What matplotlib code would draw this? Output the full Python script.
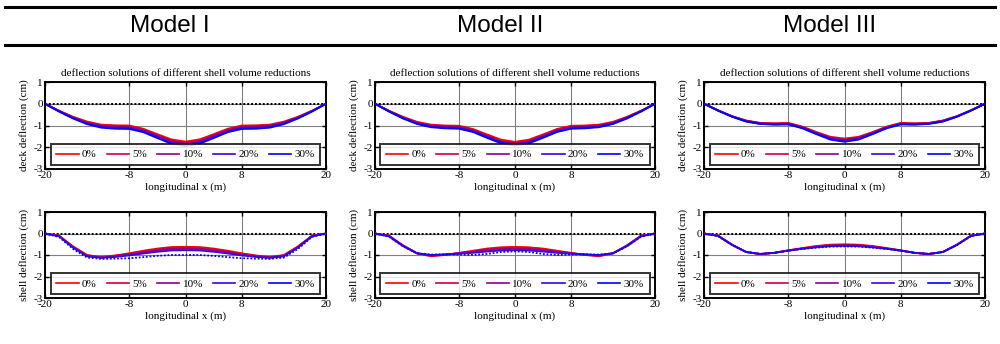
import matplotlib.pyplot as plt
from matplotlib.lines import Line2D

plt.rcParams["axes.unicode_minus"] = False

# x positions along the span (m)
x = [-20, -18, -16, -14, -12, -10, -8, -6, -4, -2, 0, 2, 4, 6, 8, 10, 12, 14, 16, 18, 20]

labels = ["0%", "5%", "10%", "20%", "30%"]
colors = ["#ff0000", "#d0003a", "#8a0090", "#4000e0", "#0000ff"]
models = ["Model I", "Model II", "Model III"]

# deck deflection (cm), one list per volume reduction
deck_1 = [
    [0, -0.32, -0.60, -0.82, -0.96, -0.99, -1.00, -1.15, -1.40, -1.64, -1.74, -1.64, -1.40, -1.15, -1.00, -0.99, -0.96, -0.82, -0.60, -0.32, 0],
    [0, -0.33, -0.62, -0.85, -0.99, -1.03, -1.04, -1.19, -1.45, -1.69, -1.79, -1.69, -1.45, -1.19, -1.04, -1.03, -0.99, -0.85, -0.62, -0.33, 0],
    [0, -0.34, -0.64, -0.88, -1.02, -1.07, -1.08, -1.23, -1.49, -1.74, -1.84, -1.74, -1.49, -1.23, -1.08, -1.07, -1.02, -0.88, -0.64, -0.34, 0],
    [0, -0.35, -0.66, -0.91, -1.06, -1.11, -1.12, -1.27, -1.54, -1.79, -1.89, -1.79, -1.54, -1.27, -1.12, -1.11, -1.06, -0.91, -0.66, -0.35, 0],
    [0, -0.36, -0.68, -0.94, -1.10, -1.15, -1.16, -1.31, -1.58, -1.84, -1.94, -1.84, -1.58, -1.31, -1.16, -1.15, -1.10, -0.94, -0.68, -0.36, 0],
]
deck_2 = [
    [0, -0.32, -0.60, -0.83, -0.96, -1.00, -1.01, -1.16, -1.41, -1.65, -1.75, -1.65, -1.41, -1.16, -1.01, -1.00, -0.96, -0.83, -0.60, -0.32, 0],
    [0, -0.33, -0.62, -0.86, -0.99, -1.03, -1.05, -1.20, -1.45, -1.70, -1.80, -1.70, -1.45, -1.20, -1.05, -1.03, -0.99, -0.86, -0.62, -0.33, 0],
    [0, -0.34, -0.64, -0.88, -1.02, -1.06, -1.08, -1.23, -1.49, -1.74, -1.84, -1.74, -1.49, -1.23, -1.08, -1.06, -1.02, -0.88, -0.64, -0.34, 0],
    [0, -0.35, -0.66, -0.91, -1.05, -1.10, -1.12, -1.27, -1.53, -1.78, -1.88, -1.78, -1.53, -1.27, -1.12, -1.10, -1.05, -0.91, -0.66, -0.35, 0],
    [0, -0.36, -0.68, -0.93, -1.08, -1.13, -1.15, -1.30, -1.57, -1.82, -1.92, -1.82, -1.57, -1.30, -1.15, -1.13, -1.08, -0.93, -0.68, -0.36, 0],
]
deck_3 = [
    [0, -0.30, -0.57, -0.77, -0.88, -0.90, -0.88, -1.05, -1.30, -1.52, -1.60, -1.52, -1.30, -1.05, -0.88, -0.90, -0.88, -0.77, -0.57, -0.30, 0],
    [0, -0.30, -0.58, -0.78, -0.89, -0.91, -0.90, -1.07, -1.32, -1.55, -1.64, -1.55, -1.32, -1.07, -0.90, -0.91, -0.89, -0.78, -0.58, -0.30, 0],
    [0, -0.31, -0.58, -0.79, -0.90, -0.93, -0.92, -1.09, -1.35, -1.58, -1.67, -1.58, -1.35, -1.09, -0.92, -0.93, -0.90, -0.79, -0.58, -0.31, 0],
    [0, -0.31, -0.59, -0.81, -0.92, -0.95, -0.94, -1.11, -1.37, -1.61, -1.71, -1.61, -1.37, -1.11, -0.94, -0.95, -0.92, -0.81, -0.59, -0.31, 0],
    [0, -0.32, -0.60, -0.82, -0.93, -0.96, -0.95, -1.13, -1.40, -1.65, -1.75, -1.65, -1.40, -1.13, -0.95, -0.96, -0.93, -0.82, -0.60, -0.32, 0],
]

# shell deflection (cm)
shell_1 = [
    [0, -0.10, -0.60, -1.00, -1.10, -1.02, -0.92, -0.80, -0.70, -0.63, -0.62, -0.63, -0.70, -0.80, -0.92, -1.02, -1.10, -1.00, -0.60, -0.10, 0],
    [0, -0.11, -0.62, -1.02, -1.11, -1.04, -0.95, -0.84, -0.74, -0.68, -0.67, -0.68, -0.74, -0.84, -0.95, -1.04, -1.11, -1.02, -0.62, -0.11, 0],
    [0, -0.12, -0.64, -1.04, -1.12, -1.06, -0.98, -0.88, -0.79, -0.73, -0.72, -0.73, -0.79, -0.88, -0.98, -1.06, -1.12, -1.04, -0.64, -0.12, 0],
    [0, -0.13, -0.66, -1.06, -1.13, -1.09, -1.02, -0.93, -0.85, -0.79, -0.78, -0.79, -0.85, -0.93, -1.02, -1.09, -1.13, -1.06, -0.66, -0.13, 0],
    [0, -0.16, -0.72, -1.12, -1.18, -1.17, -1.15, -1.10, -1.04, -1.00, -1.00, -1.00, -1.04, -1.10, -1.15, -1.17, -1.18, -1.12, -0.72, -0.16, 0],
]
shell_2 = [
    [0, -0.10, -0.55, -0.92, -1.06, -1.00, -0.90, -0.80, -0.70, -0.64, -0.62, -0.64, -0.70, -0.80, -0.90, -1.00, -1.06, -0.92, -0.55, -0.10, 0],
    [0, -0.11, -0.56, -0.92, -1.04, -0.99, -0.91, -0.83, -0.74, -0.69, -0.67, -0.69, -0.74, -0.83, -0.91, -0.99, -1.04, -0.92, -0.56, -0.11, 0],
    [0, -0.12, -0.57, -0.92, -1.02, -0.98, -0.92, -0.86, -0.78, -0.73, -0.72, -0.73, -0.78, -0.86, -0.92, -0.98, -1.02, -0.92, -0.57, -0.12, 0],
    [0, -0.13, -0.58, -0.92, -1.00, -0.97, -0.94, -0.90, -0.84, -0.79, -0.78, -0.79, -0.84, -0.90, -0.94, -0.97, -1.00, -0.92, -0.58, -0.13, 0],
    [0, -0.15, -0.60, -0.92, -0.98, -0.97, -0.98, -1.00, -0.95, -0.86, -0.83, -0.86, -0.95, -1.00, -0.98, -0.97, -0.98, -0.92, -0.60, -0.15, 0],
]
shell_3 = [
    [0, -0.10, -0.52, -0.86, -0.96, -0.90, -0.78, -0.68, -0.58, -0.52, -0.50, -0.52, -0.58, -0.68, -0.78, -0.90, -0.96, -0.86, -0.52, -0.10, 0],
    [0, -0.10, -0.52, -0.86, -0.96, -0.90, -0.79, -0.69, -0.60, -0.54, -0.53, -0.54, -0.60, -0.69, -0.79, -0.90, -0.96, -0.86, -0.52, -0.10, 0],
    [0, -0.11, -0.53, -0.86, -0.95, -0.90, -0.79, -0.70, -0.62, -0.56, -0.55, -0.56, -0.62, -0.70, -0.79, -0.90, -0.95, -0.86, -0.53, -0.11, 0],
    [0, -0.11, -0.53, -0.86, -0.95, -0.90, -0.80, -0.71, -0.64, -0.59, -0.58, -0.59, -0.64, -0.71, -0.80, -0.90, -0.95, -0.86, -0.53, -0.11, 0],
    [0, -0.12, -0.54, -0.86, -0.95, -0.90, -0.80, -0.72, -0.66, -0.61, -0.60, -0.61, -0.66, -0.72, -0.80, -0.90, -0.95, -0.86, -0.54, -0.12, 0],
]

deck = [deck_1, deck_2, deck_3]
shell = [shell_1, shell_2, shell_3]

xticks = [-20, -8, 0, 8, 20]
yticks = [-3, -2, -1, 0, 1]

serif = "Liberation Serif"
W, H = 1000, 344
fig = plt.figure(figsize=(10, 3.44), dpi=100)

# header rules and model names
for yy in (7, 45):
    fig.add_artist(Line2D([5 / W, 995 / W], [1 - yy / H, 1 - yy / H], color="black", lw=2.2))
for name, cx in zip(models, [170, 500, 830]):
    fig.text(cx / W, 1 - 26 / H, name, ha="center", va="center",
             fontsize=17.5, family="Liberation Sans")

lefts = [45, 375, 704]
widths = [281, 280, 281]


def style_axis(ax, ylabel, title=None):
    ax.set_xlim(-20, 20)
    ax.set_ylim(-3, 1)
    ax.set_xticks(xticks)
    ax.set_yticks(yticks)
    ax.axhline(0, color="black", lw=1.4, ls=(0, (1, 1)), zorder=1)
    ax.grid(True, color="#808080", lw=0.8)
    ax.set_axisbelow(True)
    ax.tick_params(direction="in", length=3, width=1, top=True, right=True,
                   labelsize=8, pad=1.5)
    for lab in ax.get_xticklabels() + ax.get_yticklabels():
        lab.set_family(serif)
    for sp in ax.spines.values():
        sp.set_linewidth(1.4)
    ax.set_xlabel("longitudinal x (m)", fontsize=8, family=serif, labelpad=2)
    ax.set_ylabel(ylabel, fontsize=8, family=serif, labelpad=3)
    if title:
        ax.set_title(title, fontsize=8, family=serif, pad=4)
    handles = [Line2D([], [], color=c, lw=1.2) for c in colors]
    leg = ax.legend(handles, labels, ncol=5, loc="lower center",
                    bbox_to_anchor=(0.5, 0.02), frameon=True,
                    fancybox=False, edgecolor="black", handlelength=2.0,
                    columnspacing=0.9, handletextpad=0.3, borderpad=0.5,
                    borderaxespad=0.2, prop={"family": serif, "size": 8})
    leg.get_frame().set_linewidth(1.4)


for i in range(3):
    ax = fig.add_axes([lefts[i] / W, 1 - 169 / H, widths[i] / W, 87 / H])
    for vals, c in zip(deck[i], colors):
        ax.plot(x, vals, color=c, lw=1.3, zorder=3)
    style_axis(ax, "deck deflection (cm)",
               "deflection solutions of different shell volume reductions")

    ax = fig.add_axes([lefts[i] / W, 1 - 298 / H, widths[i] / W, 86 / H])
    for k, (vals, c) in enumerate(zip(shell[i], colors)):
        ls = (0, (1, 1)) if k == 4 else "-"
        ax.plot(x, vals, color=c, lw=1.3, ls=ls, zorder=3)
    style_axis(ax, "shell deflection (cm)")

fig.savefig("out.png", dpi=100)
